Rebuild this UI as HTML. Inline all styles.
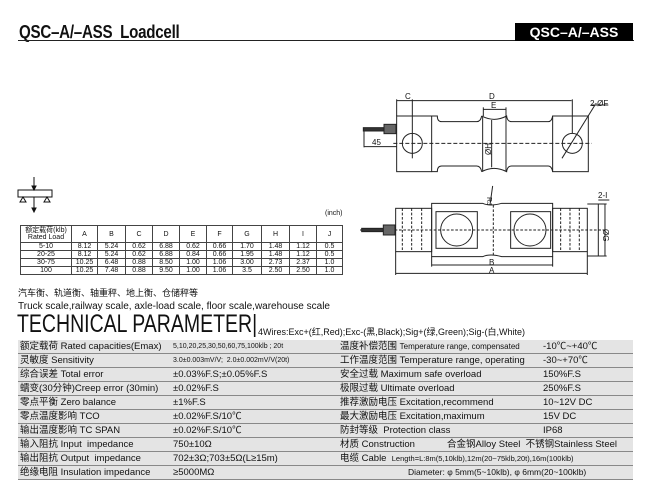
<!DOCTYPE html>
<html><head><meta charset="utf-8"><style>
body{margin:0;width:650px;height:495px;background:#fff;position:relative;overflow:hidden;font-family:"Liberation Sans","Noto Sans CJK SC",sans-serif;color:#111}
.a{position:absolute;white-space:nowrap}
table.d{position:absolute;left:20px;top:225px;border-collapse:collapse;font-size:7px;text-align:center}
table.d td{border:1px solid #444;padding:0;height:7px;line-height:7px}
.p{position:absolute;left:18px;top:340px;width:615px}
.r{height:13px;border-bottom:1px solid #888;background:#e4e4e4;position:relative;font-size:9.5px;line-height:13px}
.r span{position:absolute;top:0}
</style></head><body>
<div class="a" style="left:19px;top:22px;font-size:18px;font-weight:bold;letter-spacing:-0.3px;transform:scaleX(0.84);transform-origin:left">QSC–A/–ASS&nbsp; Loadcell</div>
<div class="a" style="left:18px;top:40px;width:616px;height:1px;background:#222"></div>
<div class="a" style="left:515px;top:23px;width:118px;height:18px;background:#000;color:#fff;font-weight:bold;font-size:14px;line-height:19px;text-align:center">QSC–A/–ASS</div>

<svg class="a" style="left:0;top:0" width="650" height="495">
<g stroke="#111" fill="none" stroke-width="1">
<rect x="18" y="190" width="34" height="7"/>
<line x1="34" y1="177" x2="34" y2="190"/><polygon points="32,186 36,186 34,190" fill="#111"/>
<line x1="34" y1="197" x2="34" y2="212"/><polygon points="32,208 36,208 34,212" fill="#111"/>
<polygon points="23,197 20,202 26,202"/><polygon points="47,197 44,202 50,202"/>
</g>
<g transform="translate(350,80) scale(0.3333)" stroke="#222" fill="none" stroke-width="3">
<rect x="140" y="108" width="105" height="167"/>
<rect x="608" y="108" width="107" height="167"/>
<path d="M245 108 H262 Q262 125 275 125 H380 Q392 125 395 108 M395 108 Q432 128 470 108 Q472 125 485 125 H595 Q605 125 608 108"/>
<path d="M245 275 H262 Q262 258 275 258 H380 Q392 258 395 275 M395 275 Q432 255 470 275 Q472 258 485 258 H595 Q605 258 608 275"/>
<line x1="398" y1="110" x2="398" y2="273"/><line x1="468" y1="110" x2="468" y2="273"/>
<circle cx="187" cy="190" r="30"/><circle cx="667" cy="190" r="30"/>
<line x1="130" y1="190" x2="725" y2="190" stroke-dasharray="12,6"/>
<line x1="187" y1="58" x2="187" y2="235"/><line x1="667" y1="58" x2="667" y2="160"/>
<line x1="140" y1="62" x2="665" y2="62"/><line x1="140" y1="58" x2="140" y2="108"/>
<line x1="400" y1="88" x2="468" y2="88"/><line x1="400" y1="82" x2="400" y2="108"/><line x1="468" y1="82" x2="468" y2="108"/>
<line x1="425" y1="120" x2="425" y2="262"/>
<line x1="735" y1="75" x2="636" y2="235"/><line x1="725" y1="75" x2="775" y2="75"/>
<line x1="42" y1="150" x2="42" y2="202"/><line x1="42" y1="200" x2="140" y2="200"/>
<rect x="40" y="143" width="62" height="10" fill="#333"/><rect x="102" y="133" width="36" height="28" fill="#666"/>
<rect x="137" y="385" width="108" height="130"/>
<rect x="608" y="385" width="104" height="130"/>
<path d="M245 370 H398 Q420 380 455 370 H608 V530 H455 Q420 520 398 530 H245 Z"/>
<rect x="258" y="395" width="124" height="110"/><rect x="482" y="395" width="120" height="110"/>
<circle cx="320" cy="450" r="48"/><circle cx="540" cy="450" r="48"/>
<g stroke-dasharray="8,5"><line x1="157" y1="385" x2="157" y2="515"/><line x1="185" y1="385" x2="185" y2="515"/><line x1="215" y1="385" x2="215" y2="515"/>
<line x1="632" y1="385" x2="632" y2="515"/><line x1="660" y1="385" x2="660" y2="515"/><line x1="688" y1="385" x2="688" y2="515"/>
<line x1="430" y1="375" x2="430" y2="525"/><line x1="30" y1="450" x2="770" y2="450"/></g>
<rect x="35" y="445" width="65" height="10" fill="#333"/><rect x="100" y="435" width="35" height="30" fill="#666"/>
<line x1="245" y1="555" x2="608" y2="555"/><line x1="245" y1="530" x2="245" y2="560"/><line x1="608" y1="530" x2="608" y2="560"/>
<line x1="137" y1="580" x2="712" y2="580"/><line x1="137" y1="515" x2="137" y2="585"/><line x1="712" y1="515" x2="712" y2="585"/>
<line x1="745" y1="372" x2="745" y2="528"/><line x1="712" y1="372" x2="770" y2="372"/><line x1="712" y1="528" x2="770" y2="528"/><line x1="765" y1="372" x2="765" y2="528"/>
<line x1="745" y1="360" x2="778" y2="360"/>
<line x1="428" y1="318" x2="420" y2="375"/>
</g>
<g font-family="Liberation Sans" font-size="8" fill="#111">
<text x="405" y="99">C</text><text x="489" y="99">D</text><text x="491" y="108">E</text><text x="590" y="106">2-ØF</text>
<text x="372" y="145">45</text>
<text transform="translate(491,155) rotate(-90)">ØH</text>
<text transform="translate(487,197) rotate(90)" font-size="7">RJ</text>
<text x="598" y="198">2-I</text>
<text transform="translate(603,229) rotate(90)">ØG</text>
<text x="489" y="265">B</text><text x="489" y="273">A</text>
</g>
</svg>

<div class="a" style="left:325px;top:210px;font-size:7px">(inch)</div>
<table class="d">
<tr style="height:17px"><td style="width:50px;line-height:7px">额定载荷(klb)<br>Rated Load</td><td style="width:25px">A</td><td style="width:27px">B</td><td style="width:26px">C</td><td style="width:26px">D</td><td style="width:26px">E</td><td style="width:25px">F</td><td style="width:28px">G</td><td style="width:27px">H</td><td style="width:26px">I</td><td style="width:25px">J</td></tr>
<tr><td>5-10</td><td>8.12</td><td>5.24</td><td>0.62</td><td>6.88</td><td>0.62</td><td>0.66</td><td>1.70</td><td>1.48</td><td>1.12</td><td>0.5</td></tr>
<tr><td>20-25</td><td>8.12</td><td>5.24</td><td>0.62</td><td>6.88</td><td>0.84</td><td>0.66</td><td>1.95</td><td>1.48</td><td>1.12</td><td>0.5</td></tr>
<tr><td>30-75</td><td>10.25</td><td>6.48</td><td>0.88</td><td>8.50</td><td>1.00</td><td>1.06</td><td>3.00</td><td>2.73</td><td>2.37</td><td>1.0</td></tr>
<tr><td>100</td><td>10.25</td><td>7.48</td><td>0.88</td><td>9.50</td><td>1.00</td><td>1.06</td><td>3.5</td><td>2.50</td><td>2.50</td><td>1.0</td></tr>
</table>

<div class="a" style="left:18px;top:288px;font-size:9px;line-height:11px">汽车衡、轨道衡、轴重秤、地上衡、仓储秤等</div>
<div class="a" style="left:18px;top:301px;font-size:10px;line-height:12px">Truck scale,railway scale, axle-load scale, floor scale,warehouse scale</div>
<div class="a" style="left:17px;top:312px;font-size:25px;line-height:25px;transform:scaleX(0.78);transform-origin:left">TECHNICAL PARAMETER|</div>
<div class="a" style="left:258px;top:325px;font-size:9px">4Wires:Exc+(红,Red);Exc-(黑,Black);Sig+(绿,Green);Sig-(白,White)</div>

<div class="p">
<div class="r"><span style="left:2px">额定载荷 Rated capacities(Emax)</span><span style="left:155px;font-size:7px">5,10,20,25,30,50,60,75,100klb ; 20t</span><span style="left:322px">温度补偿范围 <small style="font-size:8px">Temperature range, compensated</small></span><span style="left:525px">-10℃~+40℃</span></div>
<div class="r"><span style="left:2px">灵敏度 Sensitivity</span><span style="left:155px;font-size:7px">3.0±0.003mV/V;&nbsp; 2.0±0.002mV/V(20t)</span><span style="left:322px">工作温度范围 Temperature range, operating</span><span style="left:525px">-30~+70℃</span></div>
<div class="r"><span style="left:2px">综合误差 Total error</span><span style="left:155px">±0.03%F.S;±0.05%F.S</span><span style="left:322px">安全过载 Maximum safe overload</span><span style="left:525px">150%F.S</span></div>
<div class="r"><span style="left:2px">蠕变(30分钟)Creep error (30min)</span><span style="left:155px">±0.02%F.S</span><span style="left:322px">极限过载 Ultimate overload</span><span style="left:525px">250%F.S</span></div>
<div class="r"><span style="left:2px">零点平衡 Zero balance</span><span style="left:155px">±1%F.S</span><span style="left:322px">推荐激励电压 Excitation,recommend</span><span style="left:525px">10~12V DC</span></div>
<div class="r"><span style="left:2px">零点温度影响 TCO</span><span style="left:155px">±0.02%F.S/10℃</span><span style="left:322px">最大激励电压 Excitation,maximum</span><span style="left:525px">15V DC</span></div>
<div class="r"><span style="left:2px">输出温度影响 TC SPAN</span><span style="left:155px">±0.02%F.S/10℃</span><span style="left:322px">防封等级&nbsp; Protection class</span><span style="left:525px">IP68</span></div>
<div class="r"><span style="left:2px">输入阻抗 Input&nbsp; impedance</span><span style="left:155px">750±10Ω</span><span style="left:322px">材质 Construction</span><span style="left:429px">合金钢Alloy Steel&nbsp; 不锈钢Stainless Steel</span></div>
<div class="r"><span style="left:2px">输出阻抗 Output&nbsp; impedance</span><span style="left:155px">702±3Ω;703±5Ω(L≥15m)</span><span style="left:322px">电缆 Cable&nbsp; <small style="font-size:7.5px">Length=L:8m(5,10klb),12m(20~75klb,20t),16m(100klb)</small></span></div>
<div class="r"><span style="left:2px">绝缘电阻 Insulation impedance</span><span style="left:155px">≥5000MΩ</span><span style="left:390px;font-size:8.5px">Diameter: φ 5mm(5~10klb), φ 6mm(20~100klb)</span></div>
</div>
</body></html>
